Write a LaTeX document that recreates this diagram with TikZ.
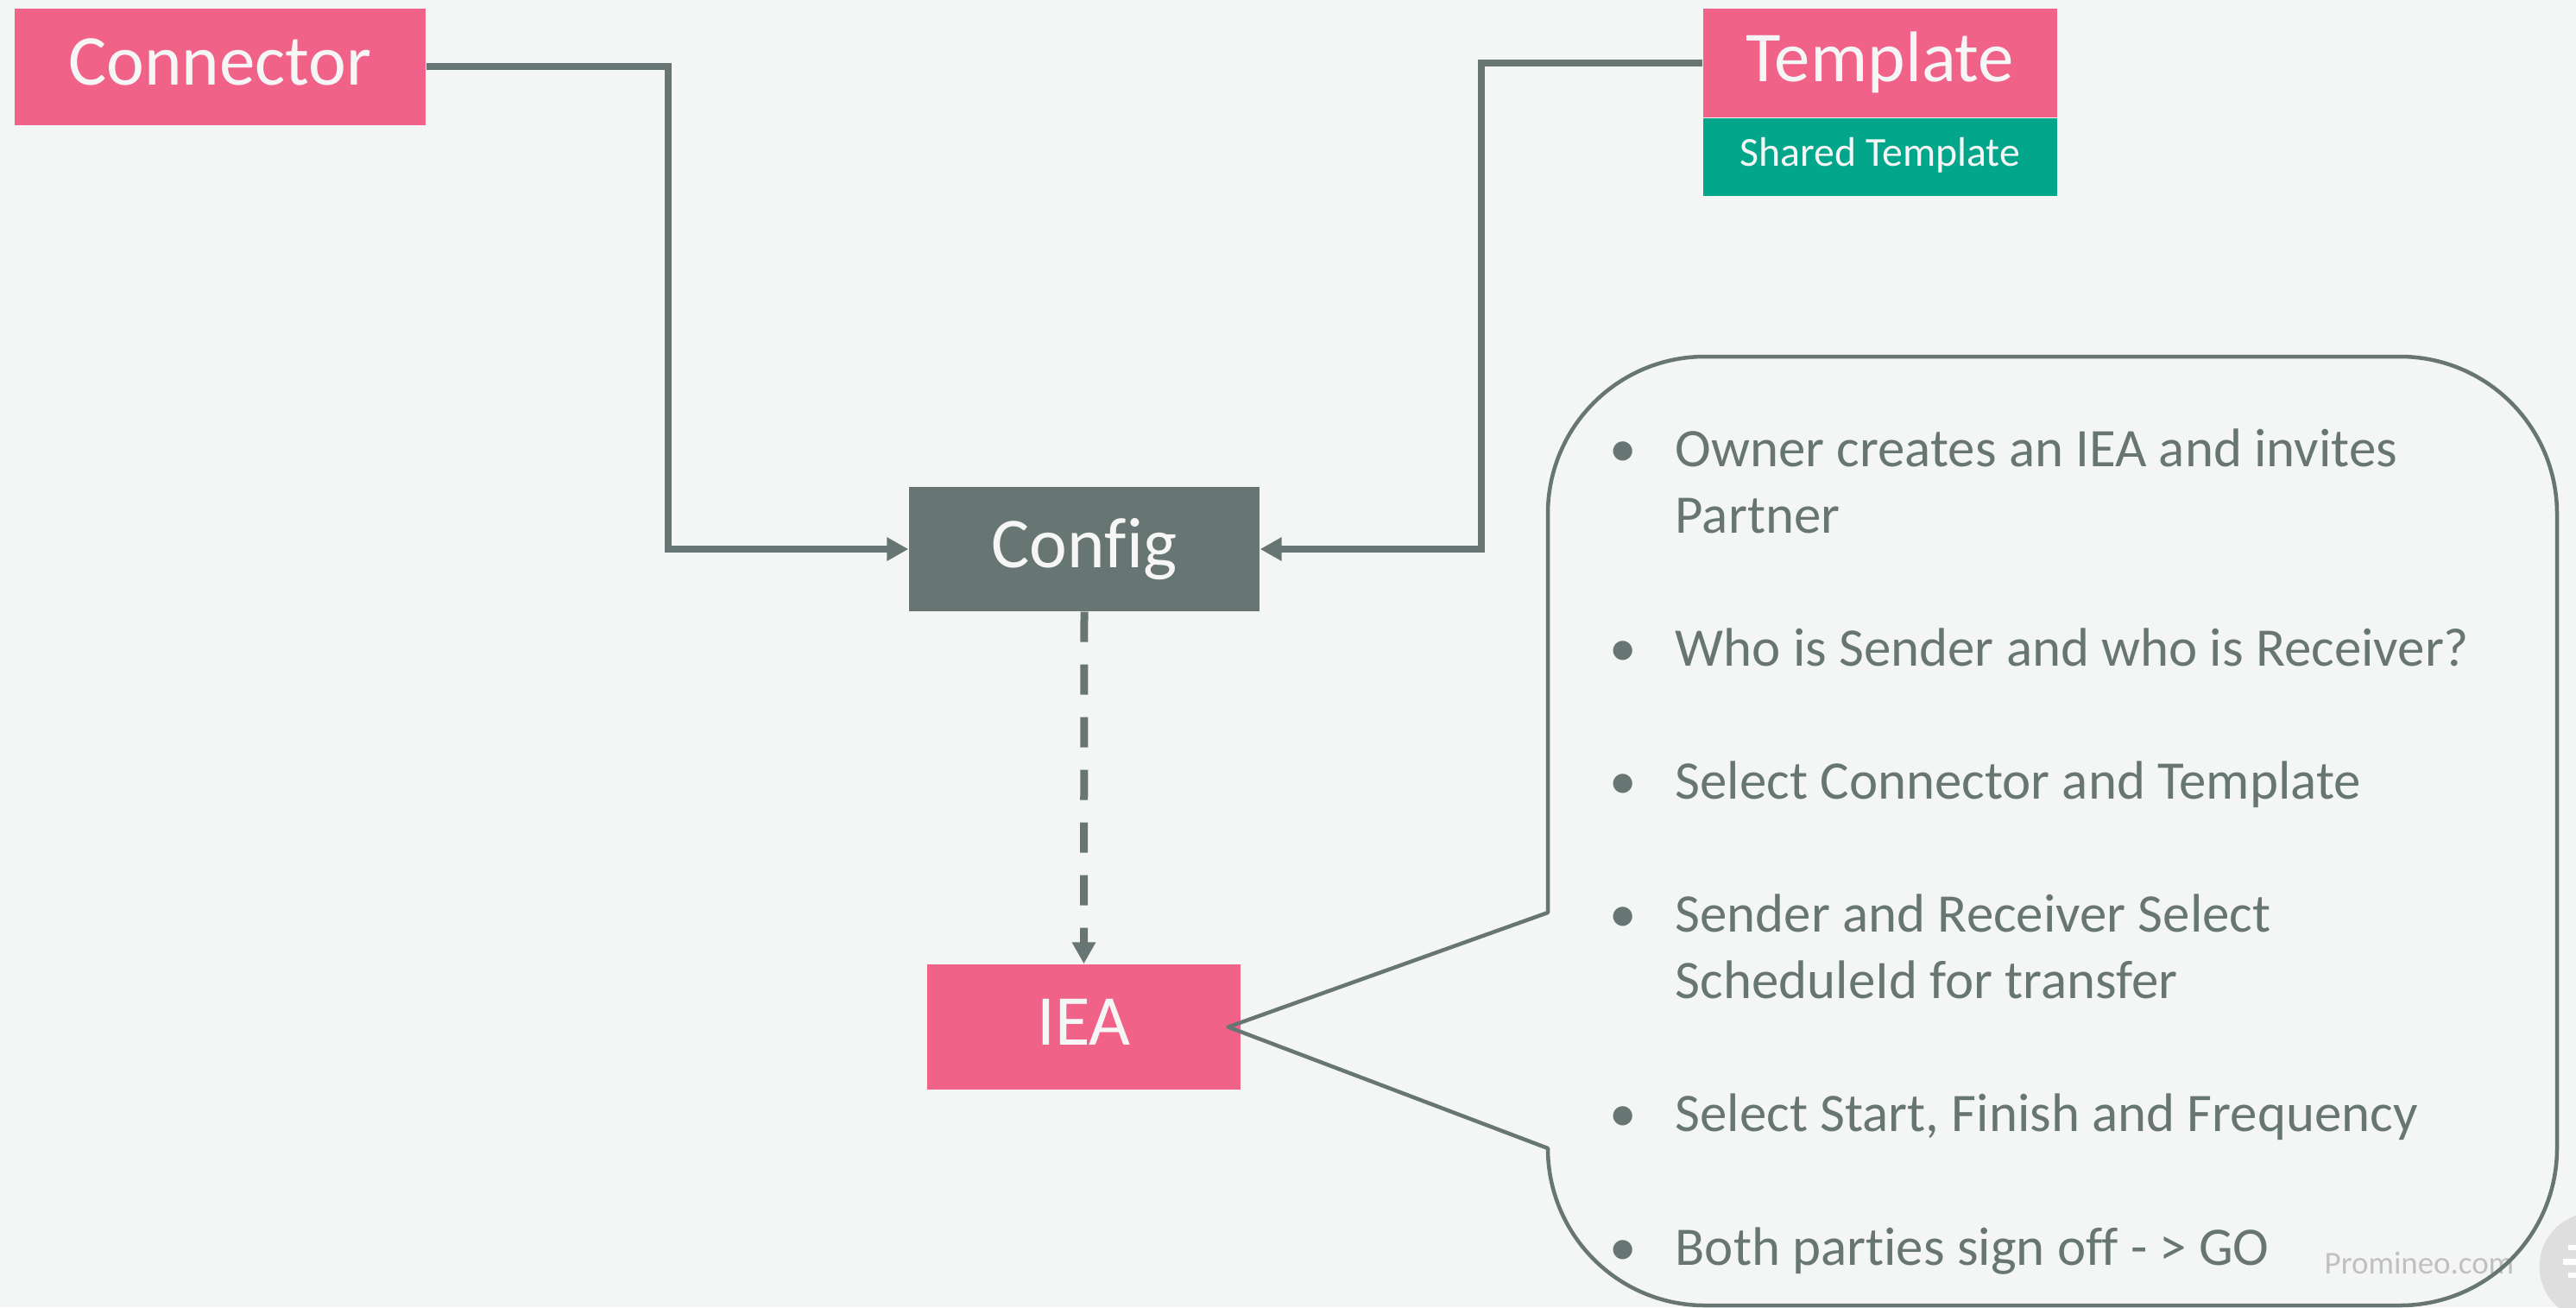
\documentclass[tikz,border=0pt]{standalone}
\usepackage{fontspec}
\setmainfont{Carlito}[Ligatures=NoCommon]
\usepackage{xcolor}
\usepackage{tikz}
\usetikzlibrary{positioning,arrows.meta}

\definecolor{slidebg}{RGB}{244,246,245}
\definecolor{boxpink}{RGB}{241,98,137}
\definecolor{boxgreen}{RGB}{2,167,139}
\definecolor{slate}{RGB}{103,117,115}
\definecolor{boxtext}{RGB}{246,246,246}
\definecolor{markgray}{RGB}{192,192,192}
\definecolor{iconbg}{RGB}{222,222,222}

\tikzset{
    box/.style={rectangle, inner sep=0pt, text=boxtext, font=\fontsize{23.6}{28}\selectfont, text height=0.54cm, text depth=0.12cm},
    pinkbox/.style={box, fill=boxpink},
    configbox/.style={box, fill=slate},
    subbox/.style={rectangle, inner sep=0pt, fill=boxgreen, text=boxtext, font=\fontsize{13.6}{16}\selectfont, text height=0.31cm, text depth=0.1cm},
    link/.style={draw=slate, line width=0.08cm, -{Triangle[length=0.25cm,width=0.26cm]}},
    dashlink/.style={link, line width=0.09cm, dash pattern=on 0.35cm off 0.26cm},
    callout/.style={draw=slate, line width=0.045cm, line join=round},
    item/.style={inner sep=0pt, anchor=north west, align=left, text=slate, font=\fontsize{17.9}{21.85}\selectfont},
    % watermark and player button
    watermark/.style={anchor=base west, inner sep=0pt, text=markgray, font=\fontsize{10.5}{12}\selectfont},
    iconbar/.style={fill=white}
}
\newcommand{\bul}{\llap{\makebox[1.22cm]{\textbullet}}}

\begin{document}
\begin{tikzpicture}
\useasboundingbox (0,0) rectangle (29.84,-15.14);
\fill[slidebg] (0,0) rectangle (29.84,-15.14);

% Watermark
\node[watermark] (mark) at (26.92,-14.75) {Promineo.com};
\begin{scope}
\clip (0,0) rectangle (29.84,-15.14);
\fill[iconbg] (30.04,-14.67) circle (0.624);
\fill[iconbar] (29.75,-14.42) rectangle (29.90,-14.48);
\fill[iconbar] (29.69,-14.58) rectangle (29.90,-14.65);
\fill[iconbar] (29.75,-14.74) rectangle (29.90,-14.80);
\end{scope}

% Source nodes
\node[pinkbox, minimum width=4.76cm, minimum height=1.35cm] (connector) at (2.55,-0.773) {Connector};
\node[pinkbox, minimum width=4.10cm, minimum height=1.26cm] (template) at (21.78,-0.73) {Template};
\node[subbox, minimum width=4.10cm, minimum height=0.90cm, below=0pt of template] (shared) {Shared Template};

% Config and IEA
\node[configbox, minimum width=4.06cm, minimum height=1.44cm] (config) at (12.56,-6.36) {Config};
\node[pinkbox, minimum width=3.63cm, minimum height=1.45cm] (iea) at (12.555,-11.895) {IEA};

% Arrows
\draw[link] (connector.east) -- ++(2.80,0) |- (config.west);
\draw[link] (template.west) -- ++(-2.56,0) |- (config.east);
\draw[dashlink] (config.south) -- (iea.north);

% Callout
\draw[callout] (17.93,-10.57) -- (17.93,-5.95)
    arc[start angle=180, end angle=90, radius=1.82] -- (27.80,-4.13)
    arc[start angle=90, end angle=0, radius=1.82] -- (29.62,-13.30)
    arc[start angle=0, end angle=-90, radius=1.82] -- (19.75,-15.12)
    arc[start angle=270, end angle=180, radius=1.82]
    -- ([xshift=-0.15cm]iea.east) -- cycle;

% Steps
\node[item] (owner) at (19.40,-4.86) {\bul\strut Owner creates an IEA and invites\\\strut Partner};
\node[item, below=0.76cm of owner.south west, anchor=north west] (roles) {\bul\strut Who is Sender and who is Receiver?};
\node[item, below=0.76cm of roles.south west, anchor=north west] (select) {\bul\strut Select Connector and Template};
\node[item, below=0.76cm of select.south west, anchor=north west] (sched) {\bul\strut Sender and Receiver Select\\\strut ScheduleId for transfer};
\node[item, below=0.76cm of sched.south west, anchor=north west] (freq) {\bul\strut Select Start, Finish and Frequency};
\node[item, below=0.76cm of freq.south west, anchor=north west] (go) {\bul\strut Both parties sign off - > GO};
\end{tikzpicture}
\end{document}
